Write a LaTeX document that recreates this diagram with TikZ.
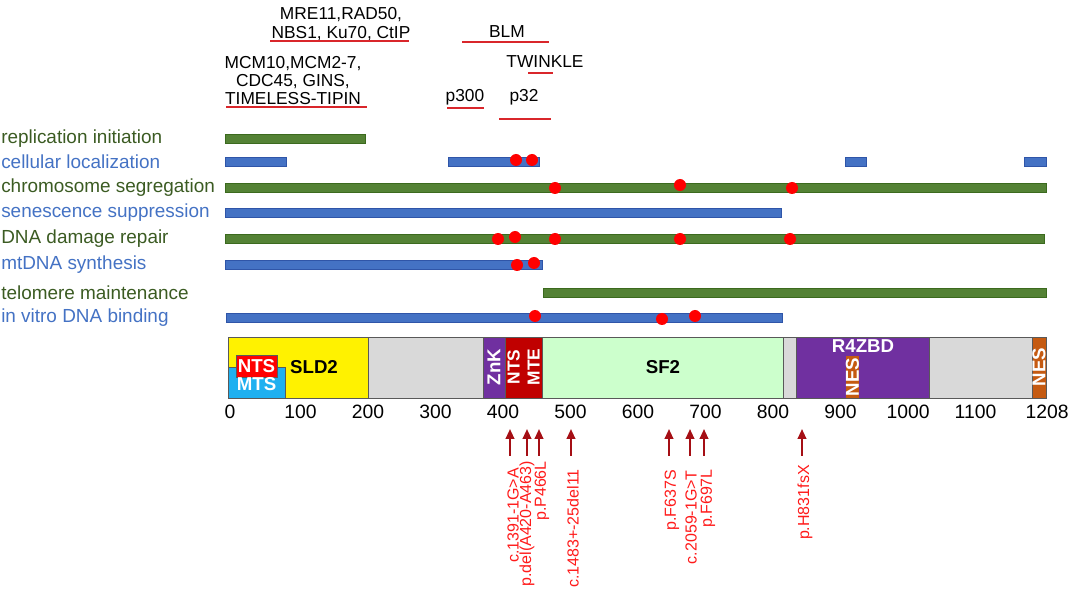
\documentclass[tikz,border=0pt]{standalone}
\usepackage{fontspec}
\setmainfont{Liberation Sans}
\usetikzlibrary{arrows.meta}
\definecolor{fungreen}{HTML}{548235}
\definecolor{fungreenedge}{HTML}{3B6A1E}
\definecolor{funblue}{HTML}{4472C4}
\definecolor{funblueedge}{HTML}{2F55A8}
\definecolor{greentext}{HTML}{3B5B22}
\definecolor{bluetext}{HTML}{4472C4}
\definecolor{hitred}{HTML}{FF0000}
\definecolor{partnerred}{HTML}{D9262B}
\definecolor{arrowred}{HTML}{A50F15}
\definecolor{mutred}{HTML}{FF1A1A}
\definecolor{domgray}{HTML}{D9D9D9}
\definecolor{domedge}{HTML}{595959}
\definecolor{sfgreen}{HTML}{CCFFCC}
\definecolor{znkpurple}{HTML}{7030A0}
\definecolor{ntsdark}{HTML}{C00000}
\definecolor{mtscyan}{HTML}{1FB0F0}
\definecolor{nesorange}{HTML}{C55A11}
\tikzset{funlabel/.style={anchor=west,inner sep=0pt,font=\fontsize{14.2}{16}\selectfont}}
\tikzset{greenbar/.style={draw=fungreenedge,fill=fungreen,line width=0.6pt}}
\tikzset{bluebar/.style={draw=funblueedge,fill=funblue,line width=0.6pt}}
\tikzset{hit/.style={fill=hitred,draw=none}}
\tikzset{partner/.style={align=center,inner sep=0pt,font=\fontsize{13}{13.6}\selectfont}}
\tikzset{partnerline/.style={draw=partnerred,line width=1.5pt}}
\tikzset{domainbox/.style={draw=domedge,line width=0.6pt}}
\tikzset{domlabel/.style={inner sep=0pt,align=center,font=\bfseries\fontsize{14}{14.5}\selectfont}}
\tikzset{ticklabel/.style={inner sep=0pt,font=\fontsize{14.5}{16}\selectfont}}
\tikzset{mutlabel/.style={rotate=90,anchor=east,inner sep=0pt,text=mutred,font=\fontsize{12}{14}\selectfont}}
\tikzset{mutarrow/.style={draw=arrowred,line width=1.5pt,-{Triangle[length=7.5pt,width=6.5pt]}}}
\begin{document}
\begin{tikzpicture}[x=0.75pt,y=-0.75pt]
    \useasboundingbox (0,0) rectangle (1072,602);

    % interacting partners
    \node[partner] (mre) at (341,24) {MRE11,RAD50,\\NBS1, Ku70, CtIP};
    \node[partner] (mcm) at (293,80.5) {MCM10,MCM2-7,\\CDC45, GINS,\\TIMELESS-TIPIN};
    \node[partner] (blm) at (507,32) {BLM};
    \node[partner] (twinkle) at (545,62) {TWINKLE};
    \node[partner] (pthreehundred) at (465,97) {p300};
    \node[partner] (pthirtytwo) at (524,97) {p32};
    \draw[partnerline] (270,41) -- (409,41);
    \draw[partnerline] (226,107) -- (367,107);
    \draw[partnerline] (462,42) -- (549,42);
    \draw[partnerline] (528,73) -- (553,73);
    \draw[partnerline] (447,108) -- (484,108);
    \draw[partnerline] (499,119) -- (551,119);

    % functions
    \node[funlabel,text=greentext] (repl) at (1,139) {replication initiation};
    \node[funlabel,text=bluetext] (local) at (1,162) {cellular localization};
    \node[funlabel,text=greentext] (chrom) at (1,188) {chromosome segregation};
    \node[funlabel,text=bluetext] (senes) at (1,213) {senescence suppression};
    \node[funlabel,text=greentext] (repair) at (1,239) {DNA damage repair};
    \node[funlabel,text=bluetext] (mtdna) at (1,265) {mtDNA synthesis};
    \node[funlabel,text=greentext] (telo) at (1,293) {telomere maintenance};
    \node[funlabel,text=bluetext] (binding) at (1,318) {in vitro DNA binding};

    \foreach \a/\b/\y/\s in {225/365/139/greenbar, 225/286/162/bluebar, 448/539/162/bluebar,
        845/866/162/bluebar, 1024/1046/162/bluebar, 225/1046/188/greenbar, 225/781/213/bluebar,
        225/1044/239/greenbar, 225/542/265/bluebar, 543/1046/293/greenbar, 226/782/318/bluebar}
        \draw[\s] (\a,\y-4.5) rectangle (\b,\y+4.5);

    \foreach \x/\y in {516/160, 532/160, 555/188, 680/185, 792/188, 498/239, 515/237,
        555/239, 680/239, 790/239, 517/265, 534/263, 535/316, 662/319, 695/316}
        \fill[hit] (\x,\y) circle[radius=6];

    % domains
    \draw[domainbox,fill=domgray] (228,337) rectangle (1046,398);
    \draw[domainbox,fill=yellow] (228,337) rectangle (368,398);
    \draw[domainbox,fill=mtscyan] (228,367) rectangle (285,398);
    \draw[domainbox,fill=red] (236,355) rectangle (277,377);
    \draw[domainbox,fill=znkpurple] (483,337) rectangle (505,398);
    \draw[domainbox,fill=ntsdark] (505,337) rectangle (542,398);
    \draw[domainbox,fill=sfgreen] (542,337) rectangle (783,398);
    \draw[domainbox,fill=znkpurple] (796,337) rectangle (929,398);
    \draw[domainbox,fill=nesorange,draw=none] (846,356) rectangle (859,398);
    \draw[domainbox,fill=nesorange] (1032,337) rectangle (1046,398);

    \node[domlabel,text=white] (nts) at (256.5,366) {NTS};
    \node[domlabel,text=white] (mts) at (256.5,384.5) {MTS};
    \node[domlabel] (sld) at (314,367) {SLD2};
    \node[domlabel,text=white,rotate=90] (znk) at (494,367) {ZnK};
    \node[domlabel,text=white,rotate=90,font=\bfseries\fontsize{13}{15}\selectfont] (ntsmte) at (523.5,367) {NTS\\MTE};
    \node[domlabel] (sf) at (663,367) {SF2};
    \node[domlabel,text=white] (rzbd) at (863,346) {R4ZBD};
    \node[domlabel,text=white,rotate=90] (nesinner) at (852.5,377) {NES};
    \node[domlabel,text=white,rotate=90] (nesend) at (1039,367) {NES};

    % axis
    \foreach \x/\t in {230/0, 300.5/100, 368/200, 435.5/300, 503/400, 570.5/500, 638/600,
        705.5/700, 773/800, 840.5/900, 908/1000, 975.5/1100, 1047/1208}
        \node[ticklabel] (tick\t) at (\x,412) {\t};

    % mutations
    \foreach \ax/\tx/\ty/\m [count=\i] in {510/513/468/c.1391-1G>A, 527/527/461/p.del(A420-A463),
        539/542/461/p.P466L, 571/573/469/c.1483+-25del11, 669/672/470/p.F637S,
        690/691/470/c.2059-1G>T, 704/708/469/p.F697L, 802/805/465/p.H831fsX} {
        \node[mutlabel] (mut\i) at (\tx,\ty) {\m};
        \coordinate (mutbase\i) at (\ax,456);
        \coordinate (muttip\i) at (\ax,429);
        \draw[mutarrow] (mutbase\i) -- (muttip\i);
    }
\end{tikzpicture}
\end{document}
